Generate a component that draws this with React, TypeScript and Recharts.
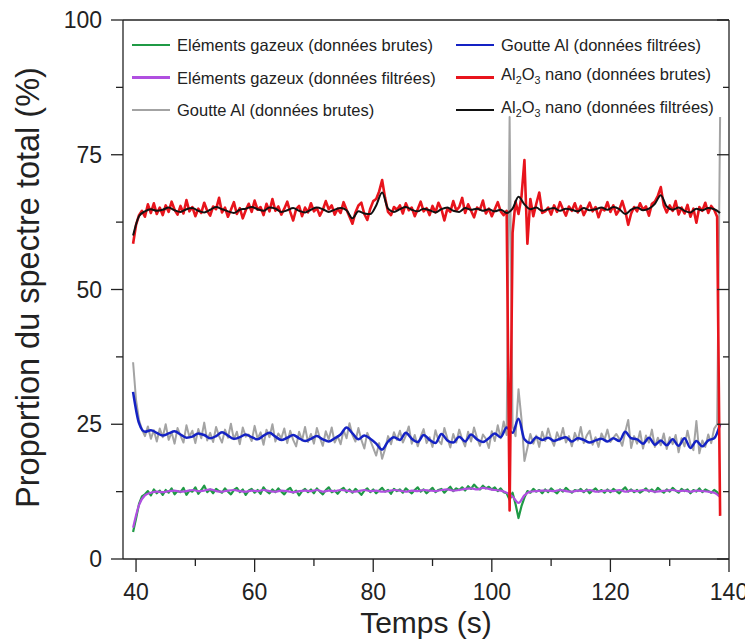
import React from "react";
import { LineChart, Line, XAxis, YAxis, Legend } from "recharts";

const FONT = '"Liberation Sans", Arial, sans-serif';
const INK = "#222";

// raw series: one sample every 0.5 s starting at 39.5 s
const RAW_T0 = 39.5;
const RAW_DT = 0.5;
// filtered series: one sample every 1 s starting at 39.5 s
const FILT_T0 = 39.5;
const FILT_DT = 1;

const X_TICKS = [40, 50, 60, 70, 80, 90, 100, 110, 120, 130, 140];
const X_MAJOR = [40, 60, 80, 100, 120, 140];
const Y_TICKS = [0, 12.5, 25, 37.5, 50, 62.5, 75, 87.5, 100];
const Y_MAJOR = [0, 25, 50, 75, 100];

const gazBrut = [
  5.0, 7.5, 10.2, 11.6, 12.0, 12.6, 11.8, 12.9, 12.2, 12.7,
  11.9, 12.8, 12.3, 13.1, 12.0, 12.6, 12.4, 13.2, 11.9, 12.7,
  12.5, 13.3, 12.1, 12.8, 13.6, 12.4, 12.9, 12.2, 13.0, 12.6,
  12.3, 13.1, 12.5, 12.0, 12.8, 13.2, 12.4, 12.9, 11.9, 12.7,
  13.0, 12.3, 12.8, 12.1, 13.3, 12.6, 12.2, 12.9, 12.4, 13.1,
  12.5, 12.0, 12.8, 13.2, 12.3, 12.7, 11.8, 12.6, 13.0, 12.4,
  12.9, 12.2, 13.1, 12.5, 12.0, 12.8, 13.3, 12.4, 12.7, 12.1,
  12.8, 13.2, 12.4, 12.9, 12.3, 13.0, 12.5, 11.9, 12.7, 13.1,
  12.4, 12.9, 12.2, 12.7, 13.2, 12.5, 12.8, 12.1, 13.0, 12.6,
  12.9, 12.3, 13.1, 12.6, 12.2, 12.8, 13.3, 12.5, 12.9, 12.2,
  12.7, 13.2, 12.4, 12.8, 13.0, 12.3, 12.9, 13.4, 12.6, 13.1,
  12.8, 13.3, 12.7, 13.5, 13.0, 13.8, 13.2, 12.9, 13.6, 13.1,
  13.4, 12.9, 13.3, 12.6, 13.1, 12.4, 12.2, 11.0, 12.3, 10.2,
  7.6, 9.8, 11.4, 12.6, 12.3, 13.0, 12.5, 12.8, 12.2, 12.9,
  12.4, 13.1, 12.6, 12.2, 12.9, 12.5, 13.2, 12.7, 12.3, 12.8,
  12.6, 13.0, 12.4, 12.9, 12.2, 12.7, 13.1, 12.5, 12.8, 12.3,
  12.9, 12.4, 13.0, 12.6, 12.2, 12.8, 13.3, 12.5, 12.9, 12.4,
  12.8, 12.3, 12.7, 13.1, 12.5, 12.9, 12.4, 13.2, 12.7, 12.3,
  12.9, 12.5, 13.2, 12.7, 12.3, 13.0, 12.6, 12.9, 12.2, 12.8,
  12.5, 13.1, 12.4, 12.9, 12.6, 12.3, 12.8, 12.4, 11.5,
];

const gazFiltre = [
  5.8, 10.0, 11.8, 12.3, 12.5, 12.4, 12.6, 12.7, 12.5, 12.6,
  12.8, 12.6, 12.7, 12.9, 12.6, 12.5, 12.7, 12.8, 12.6, 12.5,
  12.7, 12.6, 12.8, 12.6, 12.5, 12.7, 12.6, 12.4, 12.6, 12.7,
  12.6, 12.8, 12.5, 12.7, 12.6, 12.8, 12.7, 12.5, 12.6, 12.8,
  12.6, 12.7, 12.5, 12.6, 12.8, 12.7, 12.5, 12.7, 12.6, 12.8,
  12.7, 12.6, 12.8, 12.9, 12.7, 12.8, 13.0, 13.1, 12.9, 13.2,
  13.0, 12.8, 12.7, 12.3, 11.6, 10.4, 11.8, 12.5, 12.6, 12.7,
  12.7, 12.6, 12.8, 12.6, 12.5, 12.7, 12.6, 12.8, 12.5, 12.6,
  12.7, 12.6, 12.8, 12.5, 12.7, 12.6, 12.8, 12.7, 12.5, 12.6,
  12.7, 12.8, 12.6, 12.7, 12.5, 12.7, 12.6, 12.5, 12.3, 11.5,
];

const goutteBrut = [
  36.5, 29.5, 25.8, 24.0, 22.8, 24.6, 22.3, 23.9, 21.8, 24.2,
  22.6, 25.0, 22.1, 23.5, 21.4, 24.3, 22.9, 21.6, 24.8, 22.7,
  23.8, 21.5, 24.1, 22.4, 25.3, 22.0, 23.4, 21.7, 24.5, 22.8,
  21.6, 24.0, 22.5, 25.1, 22.2, 23.6, 21.3, 24.4, 22.7, 23.1,
  21.9, 24.7, 22.3, 23.5, 21.2, 24.0, 22.6, 25.0, 21.8, 23.3,
  22.4, 24.2, 21.5, 23.8, 22.1, 20.9, 23.6, 22.0, 24.5, 21.7,
  23.2, 21.4, 24.3, 22.5, 21.0, 23.7, 22.2, 24.4, 21.6, 22.8,
  21.3, 23.9, 22.4, 25.2, 23.0, 21.8, 24.3, 22.1, 20.5, 23.4,
  22.0, 20.6, 19.2, 21.5, 18.6, 20.4, 22.8, 21.3, 23.5, 22.1,
  23.8, 21.6, 22.9, 24.6, 21.4, 23.0, 20.9, 22.7, 24.1, 21.5,
  22.6, 20.8, 23.9, 22.0, 21.3, 24.3, 22.4, 20.7, 23.2, 21.6,
  24.0, 22.2, 20.9, 23.6, 21.8, 24.4, 22.5, 21.0, 23.1, 22.3,
  20.6, 23.7, 21.9, 24.8, 22.4, 25.5, 23.0, 82.0, 24.6, 22.8,
  31.5, 26.0, 18.2, 20.6, 23.2, 21.4, 22.9, 20.8, 23.6, 21.9,
  24.2, 22.3, 21.0, 23.5, 22.1, 24.3, 21.6, 22.8, 20.9, 23.4,
  22.0, 24.5, 21.5, 22.9, 23.8, 21.2, 22.6, 20.8, 23.3, 22.1,
  24.0, 21.7, 22.5, 23.2, 22.3, 21.0, 23.6, 25.8, 20.6, 22.8,
  21.4, 23.7, 20.5, 22.9, 21.6, 24.0, 20.8, 22.5, 21.1, 23.3,
  20.4, 22.6, 21.3, 23.0, 19.8, 22.4, 20.9, 23.8, 21.3, 20.2,
  25.6, 19.6, 22.0, 20.8, 23.1, 21.5, 24.2, 25.0, 82.0,
];

const goutteFiltre = [
  31.0, 25.2, 23.6, 23.9, 23.4, 22.9, 23.3, 23.7, 23.1, 22.5,
  22.7, 23.3, 23.0, 22.4, 22.8, 23.5, 22.9, 22.3, 22.6, 23.1,
  22.6, 22.2, 22.9, 23.4, 22.7, 22.1, 22.5, 23.0, 22.4, 21.9,
  22.3, 22.8, 22.2, 21.8, 22.4, 23.1, 24.4, 23.3, 22.2, 22.9,
  22.3, 21.4, 20.3, 21.8, 22.6, 22.1, 23.4, 22.3, 21.7, 23.0,
  22.1, 21.5, 23.2, 22.0, 21.6, 22.7, 21.8, 23.1, 22.2, 21.7,
  22.4, 23.3, 22.6, 24.4, 23.4, 26.0, 22.2, 21.5, 22.6, 22.1,
  22.5, 21.9, 22.3, 22.6, 21.8, 22.4, 22.1, 21.6, 22.0, 22.3,
  21.8, 22.4, 21.9, 23.6, 22.4, 22.2, 21.4, 22.5, 21.2, 22.0,
  21.1, 22.2, 21.0, 22.4, 20.6, 21.9, 20.9, 22.0, 22.4, 25.0,
];

const nanoBrut = [
  58.5, 62.0, 63.8, 64.6, 63.5, 65.8, 64.2, 66.0, 64.0, 65.2,
  63.8, 65.6, 64.4, 66.3, 64.8, 63.9, 65.5, 64.1, 66.6, 64.5,
  65.3, 63.6, 65.0, 64.2, 66.1, 64.6, 63.7, 65.4, 64.9, 67.0,
  64.3, 65.2, 63.5, 64.8, 66.2, 64.0, 65.1, 63.2, 64.7, 65.9,
  64.4, 66.5, 64.8, 65.3, 63.8, 65.9, 64.5, 66.8, 64.6, 65.4,
  63.9, 65.0, 66.3, 64.4, 62.8, 64.9, 65.5, 63.6, 65.2, 64.3,
  66.0, 64.5, 65.1, 63.7, 64.8, 66.4, 64.9, 65.6, 63.9, 65.0,
  64.2, 66.2, 64.8, 63.5, 62.2, 64.3, 65.6, 66.1, 64.0, 62.9,
  65.0, 66.4, 66.8, 68.2, 70.3, 67.0, 64.4, 63.8, 65.3, 64.8,
  65.6, 64.1, 66.0, 64.7, 65.2, 63.6, 64.9, 66.3, 64.5, 65.1,
  63.8, 65.5, 64.3, 66.1, 64.9, 62.8, 65.0, 64.4, 66.4, 64.7,
  65.3, 67.0, 64.2, 65.8, 64.6, 63.4, 65.2, 64.8, 66.5, 64.1,
  65.0, 63.6, 64.9, 66.2, 64.5, 63.8, 64.6, 9.0, 60.5, 66.3,
  64.0, 67.2, 74.0, 58.5, 66.8, 63.6, 65.9, 68.0, 64.2, 64.5,
  65.2, 63.9, 65.6, 64.4, 66.2, 64.9, 63.7, 65.4, 64.6, 66.0,
  64.3, 65.5, 63.8, 64.9, 66.1, 64.5, 65.3, 63.4, 65.0, 64.7,
  66.2, 64.4, 65.6, 63.9, 64.8, 66.4, 64.6, 62.0, 64.1, 65.3,
  64.5, 66.0, 64.8, 65.4, 63.7, 65.9, 66.3, 67.4, 69.0, 65.6,
  64.3, 65.6, 64.6, 66.4, 63.9, 65.2, 64.1, 65.7, 63.5, 65.0,
  62.4, 65.3, 64.6, 66.1, 64.2, 65.5, 64.8, 63.5, 8.0,
];

const nanoFiltre = [
  60.0, 63.6, 64.5, 64.9, 64.6, 64.8, 65.2, 64.7, 64.4, 64.9,
  65.1, 64.6, 64.3, 64.8, 65.3, 64.9, 64.5, 64.2, 64.8, 65.0,
  65.3, 64.9, 64.6, 65.2, 65.0, 64.4, 64.7, 65.1, 64.6, 64.3,
  64.8, 65.2, 64.9, 64.4, 64.8, 65.1, 64.7, 63.2, 64.5, 64.1,
  64.0, 65.6, 68.0, 65.0, 64.4, 64.9, 65.3, 64.8, 64.5, 65.0,
  64.7, 64.3, 64.9, 65.2, 64.6, 64.4, 65.1, 64.8, 65.0, 64.6,
  64.9, 64.5, 64.8, 64.2, 65.0, 67.2, 65.8, 64.9, 65.2, 64.6,
  64.9, 65.1, 64.6, 65.0, 64.8, 64.5, 65.1, 64.7, 64.9, 65.2,
  64.8, 65.3, 64.9, 64.0, 64.8, 65.2, 64.7, 65.0, 65.9, 67.5,
  65.4, 64.8, 65.2, 64.6, 64.3, 65.0, 64.7, 65.1, 64.9, 64.2,
];

const toRows = (vals: number[], t0: number, dt: number) =>
  vals.map((v, i) => ({ t: +(t0 + i * dt).toFixed(2), v }));

const series = [
  { name: "Eléments gazeux (données brutes)", color: "#1f9a45", width: 2.2, type: "linear", rows: toRows(gazBrut, RAW_T0, RAW_DT) },
  { name: "Eléments gazeux (données filtrées)", color: "#b04fe0", width: 2.2, type: "monotone", rows: toRows(gazFiltre, FILT_T0, FILT_DT) },
  { name: "Goutte Al (données brutes)", color: "#a3a3a3", width: 2, type: "linear", rows: toRows(goutteBrut, RAW_T0, RAW_DT) },
  { name: "Goutte Al (données filtrées)", color: "#1422c4", width: 2.5, type: "monotone", rows: toRows(goutteFiltre, FILT_T0, FILT_DT) },
  { name: "Al2O3 nano (données brutes)", color: "#e8141c", width: 2.6, type: "linear", rows: toRows(nanoBrut, RAW_T0, RAW_DT) },
  { name: "Al2O3 nano (données filtrées)", color: "#111111", width: 2, type: "monotone", rows: toRows(nanoFiltre, FILT_T0, FILT_DT) },
];

// writes Al2O3 with subscripts
const fmtName = (name: string) => {
  if (!name.startsWith("Al2O3")) return name;
  return (
    <>
      Al<sub style={{ fontSize: "0.65em" }}>2</sub>O<sub style={{ fontSize: "0.65em" }}>3</sub>
      {name.slice(5)}
    </>
  );
};

const BottomTick = (props: any) => {
  const { x, y, payload } = props;
  const major = X_MAJOR.includes(payload.value);
  return (
    <g>
      <line x1={x} x2={x} y1={y} y2={y + (major ? 13 : 7)} stroke={INK} strokeWidth={1.3} />
      {major && (
        <text x={x} y={y + 41} textAnchor="middle" fontSize={23} fontFamily={FONT} fill={INK}>
          {payload.value}
        </text>
      )}
    </g>
  );
};

const TopTick = (props: any) => {
  const { x, y, payload } = props;
  const major = X_MAJOR.includes(payload.value);
  return <line x1={x} x2={x} y1={y} y2={y + (major ? 13 : 7)} stroke={INK} strokeWidth={1.3} />;
};

const LeftTick = (props: any) => {
  const { x, y, payload } = props;
  const major = Y_MAJOR.includes(payload.value);
  return (
    <g>
      <line x1={x - (major ? 12 : 7)} x2={x} y1={y} y2={y} stroke={INK} strokeWidth={1.3} />
      {major && (
        <text x={x - 21} y={y + 8} textAnchor="end" fontSize={23} fontFamily={FONT} fill={INK}>
          {payload.value}
        </text>
      )}
    </g>
  );
};

const RightTick = (props: any) => {
  const { x, y, payload } = props;
  const major = Y_MAJOR.includes(payload.value);
  return <line x1={x - (major ? 12 : 6)} x2={x} y1={y} y2={y} stroke={INK} strokeWidth={1.3} />;
};

const XTitle = (props: any) => {
  const { viewBox } = props;
  return (
    <text x={viewBox.x + viewBox.width / 2} y={viewBox.y + 74} textAnchor="middle" fontSize={30} fontFamily={FONT} fill={INK}>
      Temps (s)
    </text>
  );
};

const YTitle = (props: any) => {
  const { viewBox } = props;
  const cx = viewBox.x + 31;
  const cy = viewBox.y + viewBox.height / 2 - 2;
  return (
    <text x={cx} y={cy} transform={`rotate(-90, ${cx}, ${cy})`} textAnchor="middle" fontSize={32.5} fontFamily={FONT} fill={INK}>
      Proportion du spectre total (%)
    </text>
  );
};

const LegendBox = () => (
  <div style={{ position: "relative", width: 745, height: 120, fontFamily: FONT, fontSize: 16.5, color: INK }}>
    {series.map((s, i) => {
      const col = Math.floor(i / 3);
      const row = i % 3;
      return (
        <div
          key={s.name}
          style={{
            position: "absolute",
            left: col === 0 ? 124 : 448,
            top: 27 + row * 32.5,
            height: 20,
            display: "flex",
            alignItems: "center",
            whiteSpace: "nowrap",
          }}
        >
          <div style={{ width: 38, height: Math.max(s.width, 2), background: s.color }} />
          <span style={{ marginLeft: 7, lineHeight: "20px" }}>{fmtName(s.name)}</span>
        </div>
      );
    })}
  </div>
);

export default function App() {
  return (
    <LineChart width={745} height={632} margin={{ top: 11, right: 23, bottom: 11, left: 0 }}>
      <XAxis
        dataKey="t"
        type="number"
        domain={[37.8, 140]}
        allowDataOverflow
        ticks={X_TICKS}
        interval={0}
        height={70}
        tickSize={0}
        tickMargin={0}
        tickLine={false}
        tick={<BottomTick />}
        stroke={INK}
        strokeWidth={1.3}
        label={<XTitle />}
      />
      <XAxis
        xAxisId="top"
        orientation="top"
        type="number"
        domain={[37.8, 140]}
        allowDataOverflow
        ticks={X_TICKS}
        interval={0}
        height={1}
        tickSize={0}
        tickMargin={0}
        tickLine={false}
        tick={<TopTick />}
        stroke={INK}
        strokeWidth={1.3}
      />
      <YAxis
        type="number"
        domain={[0, 100]}
        allowDataOverflow
        ticks={Y_TICKS}
        interval={0}
        width={115}
        tickSize={0}
        tickMargin={0}
        tickLine={false}
        tick={<LeftTick />}
        stroke={INK}
        strokeWidth={1.3}
        label={<YTitle />}
      />
      <YAxis
        yAxisId="right"
        orientation="right"
        type="number"
        domain={[0, 100]}
        allowDataOverflow
        ticks={Y_TICKS}
        interval={0}
        width={1}
        tickSize={0}
        tickMargin={0}
        tickLine={false}
        tick={<RightTick />}
        stroke={INK}
        strokeWidth={1.3}
      />
      {series.map((s) => (
        <Line
          key={s.name}
          data={s.rows}
          dataKey="v"
          name={s.name}
          type={s.type as any}
          stroke={s.color}
          strokeWidth={s.width}
          strokeLinejoin="round"
          dot={false}
          activeDot={false}
          isAnimationActive={false}
        />
      ))}
      <Legend
        layout="horizontal"
        verticalAlign="middle"
        align="center"
        wrapperStyle={{ top: 0, left: 0, width: 745 }}
        content={<LegendBox />}
      />
    </LineChart>
  );
}
